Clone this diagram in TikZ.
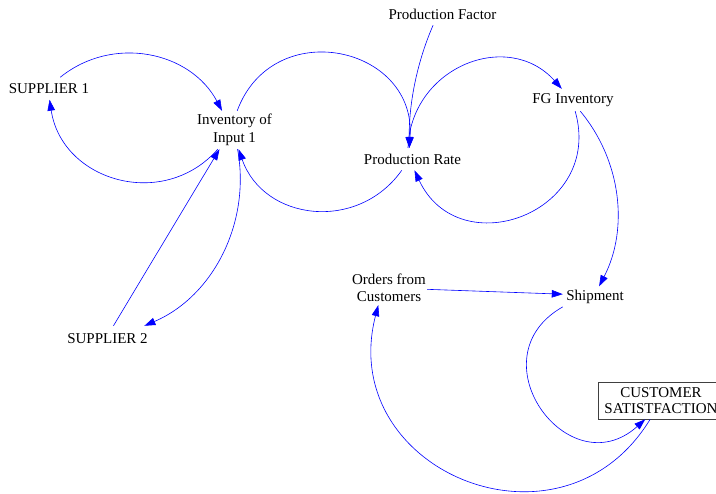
\documentclass[tikz,border=0pt]{standalone}
\usepackage{fontspec}
\setmainfont{Liberation Serif}
\usetikzlibrary{arrows.meta}
\definecolor{linkblue}{RGB}{0,0,255}
\begin{document}
\begin{tikzpicture}[x=1pt,y=1pt,
  var/.style={inner sep=0pt, align=center, font=\fontsize{15}{17.5}\selectfont},
  boxvar/.style={draw=black!75, line width=0.6pt, inner sep=0pt, align=center,
    font=\fontsize{15}{16}\selectfont},
  link/.style={draw=linkblue, line width=0.6pt,
    -{Triangle[length=11pt,width=7.5pt]}}]
\useasboundingbox (0,0) rectangle (716,-494);

% variables
\node[var, minimum width=84, minimum height=22] (sup1) at (49,-88.5) {SUPPLIER 1};
\node[var, minimum width=80, minimum height=38] (inv) at (234.5,-130) {Inventory of\\Input 1};
\node[var, minimum width=112, minimum height=22] (pf) at (442.5,-14) {Production Factor};
\node[var, minimum width=104, minimum height=22] (pr) at (412.5,-159.2) {Production Rate};
\node[var, minimum width=88, minimum height=22] (fg) at (573,-100) {FG Inventory};
\node[var, minimum width=64, minimum height=21] (ship) at (595,-297) {Shipment};
\node[var, minimum width=76, minimum height=34] (ord) at (389,-288) {Orders from\\Customers};
\node[boxvar, minimum width=126, minimum height=37] (cs) at (661,-400.5) {CUSTOMER\\SATISTFACTION};
\node[var, minimum width=84, minimum height=25] (sup2) at (107.5,-338.5) {SUPPLIER 2};

% causal links
\draw[link] (sup1.45) to[out=39, in=118, distance=67.5pt] (inv.123);
\draw[link] (inv.-131) to[out=-131.3, in=-81.4, distance=82.4pt] (sup1.-87);
\draw[link] (sup2.65) -- (inv.-128);
\draw[link] (inv.-81) to[out=-79.5, in=23.2, distance=74.7pt] (sup2.19);
\draw[link] (pf.-130) to[out=-113.5, in=90.5, distance=42.5pt] (pr.106);
\draw[link] (inv.82.5) to[out=69.7, in=85.9, distance=102.6pt] (pr.106);
\draw[link] (pr.-134.5) to[out=-125.3, in=-70.8, distance=76pt] (inv.-78.7);
\draw[link] (pr.112) to[out=88, in=131.8, distance=80.9pt] (fg.135.8);
\draw[link] (fg.-79.7) to[out=-74, in=-64.9, distance=105.4pt] (pr.-80.7);
\draw[link] (fg.-57.5) to[out=-50.2, in=62.6, distance=64.4pt] (ship.69);
\draw[link] (ord.-2) -- (ship.175);
\draw[link] (ship.-163.3) to[out=209.6, in=221.8, distance=102.9pt] (cs.-130.9);
\draw[link] (cs.-120.7) to[out=-121.4, in=255.5, distance=170.8pt] (ord.-122.2);
\end{tikzpicture}
\end{document}
